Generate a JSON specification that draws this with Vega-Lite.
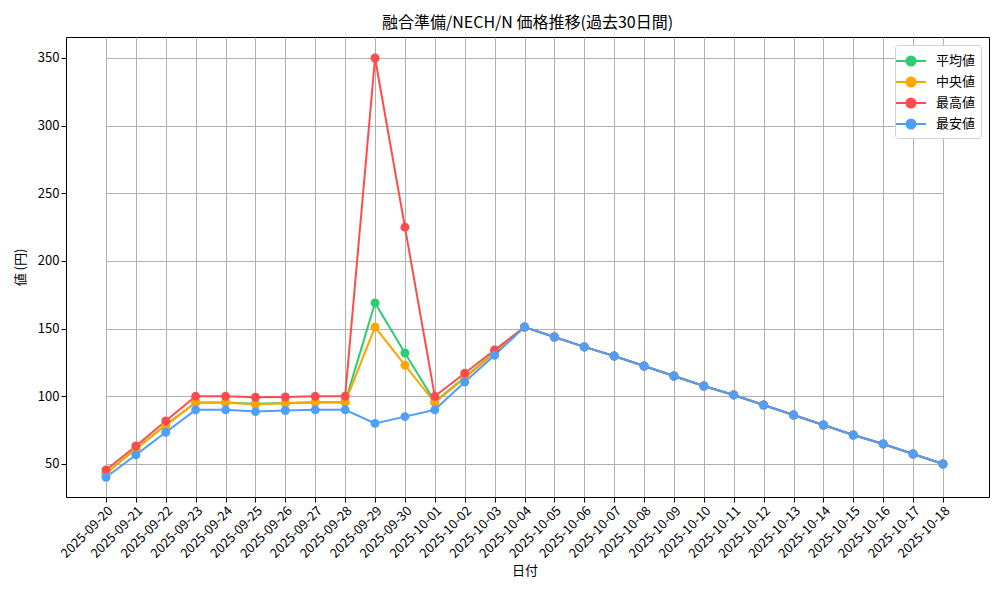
{
  "$schema": "https://vega.github.io/schema/vega-lite/v6.json",
  "width": 923,
  "height": 460,
  "autosize": {"type": "none"},
  "padding": {"left": 66, "top": 37, "right": 11, "bottom": 103},
  "background": "white",
  "title": {
    "text": "融合準備/NECH/N 価格推移(過去30日間)",
    "font": "Noto Sans CJK JP",
    "fontSize": 16,
    "fontWeight": "normal",
    "color": "black",
    "anchor": "middle",
    "frame": "group",
    "offset": 6
  },
  "config": {
    "view": {"stroke": "black", "strokeWidth": 1},
    "axis": {
      "labelFont": "Noto Sans CJK JP",
      "titleFont": "Noto Sans CJK JP",
      "labelFontSize": 13,
      "titleFontSize": 13,
      "titleFontWeight": "normal",
      "labelColor": "black",
      "titleColor": "black",
      "domain": false,
      "tickColor": "black",
      "tickSize": 5,
      "gridColor": "#b0b0b0",
      "gridWidth": 1
    }
  },
  "data": {
    "values": [
      {"date": "2025-09-20", "series": "平均値", "value": 43},
      {"date": "2025-09-21", "series": "平均値", "value": 61.5},
      {"date": "2025-09-22", "series": "平均値", "value": 79},
      {"date": "2025-09-23", "series": "平均値", "value": 95.5},
      {"date": "2025-09-24", "series": "平均値", "value": 95.5},
      {"date": "2025-09-25", "series": "平均値", "value": 94.5},
      {"date": "2025-09-26", "series": "平均値", "value": 95},
      {"date": "2025-09-27", "series": "平均値", "value": 95.7},
      {"date": "2025-09-28", "series": "平均値", "value": 95.7},
      {"date": "2025-09-29", "series": "平均値", "value": 169},
      {"date": "2025-09-30", "series": "平均値", "value": 132},
      {"date": "2025-10-01", "series": "平均値", "value": 96},
      {"date": "2025-10-02", "series": "平均値", "value": 114},
      {"date": "2025-10-03", "series": "平均値", "value": 132.5},
      {"date": "2025-10-04", "series": "平均値", "value": 151.2},
      {"date": "2025-10-05", "series": "平均値", "value": 143.8},
      {"date": "2025-10-06", "series": "平均値", "value": 136.5},
      {"date": "2025-10-07", "series": "平均値", "value": 129.8},
      {"date": "2025-10-08", "series": "平均値", "value": 122.4},
      {"date": "2025-10-09", "series": "平均値", "value": 115},
      {"date": "2025-10-10", "series": "平均値", "value": 107.6},
      {"date": "2025-10-11", "series": "平均値", "value": 101},
      {"date": "2025-10-12", "series": "平均値", "value": 93.6},
      {"date": "2025-10-13", "series": "平均値", "value": 86.2},
      {"date": "2025-10-14", "series": "平均値", "value": 78.8},
      {"date": "2025-10-15", "series": "平均値", "value": 71.4},
      {"date": "2025-10-16", "series": "平均値", "value": 64.8},
      {"date": "2025-10-17", "series": "平均値", "value": 57.4},
      {"date": "2025-10-18", "series": "平均値", "value": 50},
      {"date": "2025-09-20", "series": "中央値", "value": 43},
      {"date": "2025-09-21", "series": "中央値", "value": 61},
      {"date": "2025-09-22", "series": "中央値", "value": 78.5},
      {"date": "2025-09-23", "series": "中央値", "value": 95.3},
      {"date": "2025-09-24", "series": "中央値", "value": 95.3},
      {"date": "2025-09-25", "series": "中央値", "value": 94.1},
      {"date": "2025-09-26", "series": "中央値", "value": 94.8},
      {"date": "2025-09-27", "series": "中央値", "value": 95.5},
      {"date": "2025-09-28", "series": "中央値", "value": 95.5},
      {"date": "2025-09-29", "series": "中央値", "value": 151.2},
      {"date": "2025-09-30", "series": "中央値", "value": 123},
      {"date": "2025-10-01", "series": "中央値", "value": 95.3},
      {"date": "2025-10-02", "series": "中央値", "value": 113.5},
      {"date": "2025-10-03", "series": "中央値", "value": 132},
      {"date": "2025-10-04", "series": "中央値", "value": 151.2},
      {"date": "2025-10-05", "series": "中央値", "value": 143.8},
      {"date": "2025-10-06", "series": "中央値", "value": 136.5},
      {"date": "2025-10-07", "series": "中央値", "value": 129.8},
      {"date": "2025-10-08", "series": "中央値", "value": 122.4},
      {"date": "2025-10-09", "series": "中央値", "value": 115},
      {"date": "2025-10-10", "series": "中央値", "value": 107.6},
      {"date": "2025-10-11", "series": "中央値", "value": 101},
      {"date": "2025-10-12", "series": "中央値", "value": 93.6},
      {"date": "2025-10-13", "series": "中央値", "value": 86.2},
      {"date": "2025-10-14", "series": "中央値", "value": 78.8},
      {"date": "2025-10-15", "series": "中央値", "value": 71.4},
      {"date": "2025-10-16", "series": "中央値", "value": 64.8},
      {"date": "2025-10-17", "series": "中央値", "value": 57.4},
      {"date": "2025-10-18", "series": "中央値", "value": 50},
      {"date": "2025-09-20", "series": "最高値", "value": 45.6},
      {"date": "2025-09-21", "series": "最高値", "value": 63.3},
      {"date": "2025-09-22", "series": "最高値", "value": 81.8},
      {"date": "2025-09-23", "series": "最高値", "value": 100},
      {"date": "2025-09-24", "series": "最高値", "value": 100},
      {"date": "2025-09-25", "series": "最高値", "value": 99.3},
      {"date": "2025-09-26", "series": "最高値", "value": 99.5},
      {"date": "2025-09-27", "series": "最高値", "value": 100},
      {"date": "2025-09-28", "series": "最高値", "value": 100},
      {"date": "2025-09-29", "series": "最高値", "value": 350},
      {"date": "2025-09-30", "series": "最高値", "value": 225},
      {"date": "2025-10-01", "series": "最高値", "value": 100},
      {"date": "2025-10-02", "series": "最高値", "value": 117},
      {"date": "2025-10-03", "series": "最高値", "value": 134.2},
      {"date": "2025-10-04", "series": "最高値", "value": 151.2},
      {"date": "2025-10-05", "series": "最高値", "value": 143.8},
      {"date": "2025-10-06", "series": "最高値", "value": 136.5},
      {"date": "2025-10-07", "series": "最高値", "value": 129.8},
      {"date": "2025-10-08", "series": "最高値", "value": 122.4},
      {"date": "2025-10-09", "series": "最高値", "value": 115},
      {"date": "2025-10-10", "series": "最高値", "value": 107.6},
      {"date": "2025-10-11", "series": "最高値", "value": 101},
      {"date": "2025-10-12", "series": "最高値", "value": 93.6},
      {"date": "2025-10-13", "series": "最高値", "value": 86.2},
      {"date": "2025-10-14", "series": "最高値", "value": 78.8},
      {"date": "2025-10-15", "series": "最高値", "value": 71.4},
      {"date": "2025-10-16", "series": "最高値", "value": 64.8},
      {"date": "2025-10-17", "series": "最高値", "value": 57.4},
      {"date": "2025-10-18", "series": "最高値", "value": 50},
      {"date": "2025-09-20", "series": "最安値", "value": 40.2},
      {"date": "2025-09-21", "series": "最安値", "value": 56.7},
      {"date": "2025-09-22", "series": "最安値", "value": 73.4},
      {"date": "2025-09-23", "series": "最安値", "value": 90},
      {"date": "2025-09-24", "series": "最安値", "value": 90},
      {"date": "2025-09-25", "series": "最安値", "value": 88.7},
      {"date": "2025-09-26", "series": "最安値", "value": 89.5},
      {"date": "2025-09-27", "series": "最安値", "value": 90},
      {"date": "2025-09-28", "series": "最安値", "value": 90},
      {"date": "2025-09-29", "series": "最安値", "value": 80},
      {"date": "2025-09-30", "series": "最安値", "value": 85},
      {"date": "2025-10-01", "series": "最安値", "value": 90},
      {"date": "2025-10-02", "series": "最安値", "value": 110.6},
      {"date": "2025-10-03", "series": "最安値", "value": 130.3},
      {"date": "2025-10-04", "series": "最安値", "value": 151.2},
      {"date": "2025-10-05", "series": "最安値", "value": 143.8},
      {"date": "2025-10-06", "series": "最安値", "value": 136.5},
      {"date": "2025-10-07", "series": "最安値", "value": 129.8},
      {"date": "2025-10-08", "series": "最安値", "value": 122.4},
      {"date": "2025-10-09", "series": "最安値", "value": 115},
      {"date": "2025-10-10", "series": "最安値", "value": 107.6},
      {"date": "2025-10-11", "series": "最安値", "value": 101},
      {"date": "2025-10-12", "series": "最安値", "value": 93.6},
      {"date": "2025-10-13", "series": "最安値", "value": 86.2},
      {"date": "2025-10-14", "series": "最安値", "value": 78.8},
      {"date": "2025-10-15", "series": "最安値", "value": 71.4},
      {"date": "2025-10-16", "series": "最安値", "value": 64.8},
      {"date": "2025-10-17", "series": "最安値", "value": 57.4},
      {"date": "2025-10-18", "series": "最安値", "value": 50}
    ]
  },
  "mark": {
    "type": "line",
    "strokeWidth": 2,
    "point": {"filled": true, "size": 80, "opacity": 1}
  },
  "encoding": {
    "x": {
      "field": "date",
      "type": "ordinal",
      "sort": null,
      "title": "日付",
      "scale": {"type": "point", "padding": 0, "range": [40, 877]},
      "axis": {
        "labelAngle": -45,
        "labelAlign": "right",
        "labelBaseline": "top",
        "labelPadding": 2,
        "grid": true,
        "titlePadding": 4
      }
    },
    "y": {
      "field": "value",
      "type": "quantitative",
      "title": "値 (円)",
      "scale": {"domain": [25.6, 365.5], "nice": false, "zero": false},
      "axis": {
        "values": [50, 100, 150, 200, 250, 300, 350],
        "grid": true,
        "titlePadding": 10
      }
    },
    "color": {
      "field": "series",
      "type": "nominal",
      "sort": null,
      "scale": {
        "domain": ["平均値", "中央値", "最高値", "最安値"],
        "range": ["#2ECC71", "#FFA500", "#FF4B4B", "#4D9FFF"]
      },
      "legend": {
        "title": null,
        "orient": "top-right",
        "offset": 8,
        "fillColor": "white",
        "strokeColor": "#d0d0d0",
        "cornerRadius": 3,
        "padding": 5,
        "rowPadding": 1,
        "labelFont": "Noto Sans CJK JP",
        "labelFontSize": 13,
        "labelColor": "black",
        "labelOffset": 14,
        "symbolType": "M-1.5,0L1.5,0M0.45,0A0.45,0.45,0,1,1,-0.45,0A0.45,0.45,0,1,1,0.45,0Z",
        "symbolSize": 400,
        "symbolStrokeWidth": 2,
        "encode": {
          "symbols": {"update": {"fill": {"scale": "color", "field": "value"}, "fillOpacity": {"value": 1}}}
        }
      }
    }
  }
}
